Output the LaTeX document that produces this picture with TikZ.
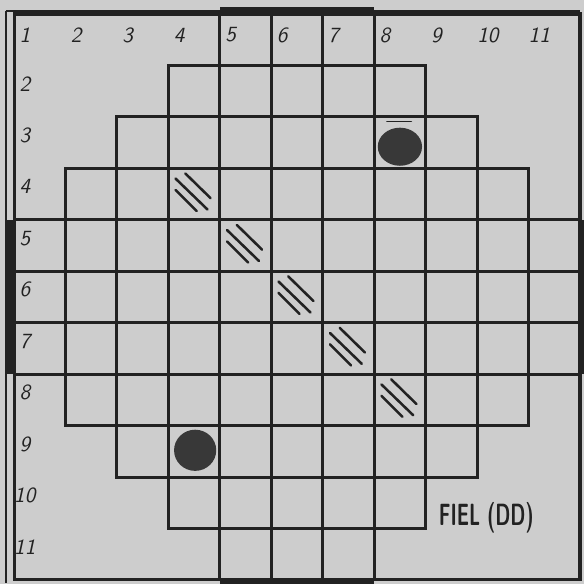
\documentclass[tikz,border=0pt]{standalone}
\usepackage{graphicx}
\usepackage{xcolor}
\usepackage{tikz}
\usetikzlibrary{shapes.geometric}
\definecolor{boardpaper}{HTML}{CDCDCD}
\definecolor{boardink}{HTML}{222222}
\definecolor{boardblob}{HTML}{383838}
\tikzset{
  cell/.style={draw=boardink, line width=1.7pt},
  frameline/.style={draw=boardink, line width=1.2pt},
  goalbar/.style={fill=boardink},
  numlbl/.style={font=\sffamily\itshape\large, text=boardink, inner sep=0pt},
  hatch/.style={draw=boardink, line width=1.4pt, line cap=round},
  blob/.style={ellipse, fill=boardblob, inner sep=0pt},
  notelbl/.style={font=\sffamily\bfseries\fontsize{17}{17}\selectfont, text=boardink, inner sep=0pt},
}

\begin{document}
\begin{tikzpicture}
  % Paper
  \fill[boardpaper] (-0.273,0.272) rectangle (11.078,-11.078);
  \useasboundingbox (-0.273,0.272) rectangle (11.078,-11.078);

  % Board: row / first column / last column
  \foreach \r/\a/\b in {1/5/7, 2/4/8, 3/3/9, 4/2/10, 5/1/11, 6/1/11,
                        7/1/11, 8/2/10, 9/3/9, 10/4/8, 11/5/7} {
    \foreach \c in {\a,...,\b}
      \draw[cell] (\c-1,1-\r) rectangle (\c,-\r);
  }

  % Frame round the board
  \draw[cell] (0,0) rectangle (11,-11);
  \draw[frameline] (-0.16,0.06) -- (11,0.06);
  \draw[frameline] (-0.16,0.06) -- (-0.16,-11.05);
  \fill[goalbar] (-0.17,-4) rectangle (0,-7);
  \fill[goalbar] (11,-4) rectangle (11.07,-7);
  \fill[goalbar] (4,0) rectangle (7,0.14);
  \fill[goalbar] (4,-11) rectangle (7,-11.07);

  % Numbers
  \foreach \c in {1,...,11}
    \node[numlbl] (col\c) at (\c-0.79,-0.41) {\c};
  \foreach \r in {2,...,11}
    \node[numlbl] (row\r) at (0.21,0.64-\r) {\r};

  % Diagonal of hatched cells
  \foreach \k in {4,...,8}
    \draw[hatch, shift={(\k-1,1-\k)}]
      (0.33,-0.10) -- (0.82,-0.58)
      (0.14,-0.20) -- (0.76,-0.80)
      (0.14,-0.42) -- (0.55,-0.83);

  % Balls
  \node[blob, minimum width=0.86cm, minimum height=0.74cm] (ballup) at (7.5,-2.58) {};
  \draw[hatch, line width=1pt] (7.25,-2.09) -- (7.72,-2.09);
  \node[blob, minimum width=0.82cm, minimum height=0.8cm] (balldown) at (3.52,-8.48) {};

  % Note
  \node[notelbl] (fiel) at (9.18,-9.8) {\scalebox{0.62}[1]{FIEL (DD)}};
\end{tikzpicture}
\end{document}
